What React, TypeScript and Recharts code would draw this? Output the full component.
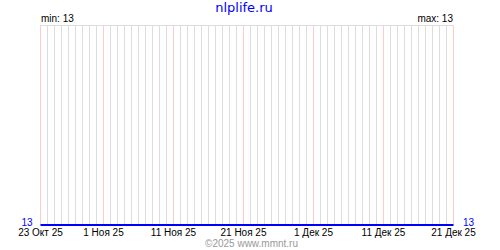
import React from "react";
import { LineChart, Line, XAxis, YAxis, CartesianGrid, ReferenceLine } from "recharts";

// Daily values, 23 Oct 25 (day 0) .. 21 Dec 25 (day 59)
const values = [
  13, 13, 13, 13, 13, 13, 13, 13, 13, 13,
  13, 13, 13, 13, 13, 13, 13, 13, 13, 13,
  13, 13, 13, 13, 13, 13, 13, 13, 13, 13,
  13, 13, 13, 13, 13, 13, 13, 13, 13, 13,
  13, 13, 13, 13, 13, 13, 13, 13, 13, 13,
  13, 13, 13, 13, 13, 13, 13, 13, 13, 13,
];
const majorDays = [0, 9, 19, 29, 39, 49, 59];
const majorLabels = ["23 Окт 25", "1 Ноя 25", "11 Ноя 25", "21 Ноя 25", "1 Дек 25", "11 Дек 25", "21 Дек 25"];
const yTicks = [13];
const title = "nlplife.ru";
const minLabel = "min: 13";
const maxLabel = "max: 13";
const copyright = "©2025 www.mmnt.ru";

const data = values.map((v, i) => ({ day: i, value: v }));
const allDays = values.map((_, i) => i);

const FONT = "'Liberation Sans', Arial, sans-serif";

export default function App() {
  const fmt = (d: number) => {
    const idx = majorDays.indexOf(d);
    return idx >= 0 ? majorLabels[idx] : "";
  };
  return (
    <div style={{ position: "absolute", left: 0, top: 0, width: 500, height: 250, background: "#fff" }}>
      <LineChart
        width={500}
        height={250}
        data={data}
        margin={{ top: 25.5, right: 0.5, bottom: 0, left: 0.5 }}
      >
        <CartesianGrid yAxisId="left" vertical={true} horizontal={false} stroke="#dddddd" strokeWidth={1} />
        <XAxis
          dataKey="day"
          type="number"
          domain={[0, 59]}
          ticks={allDays}
          interval={0}
          tickFormatter={fmt}
          axisLine={false}
          tickLine={false}
          tickSize={0}
          tickMargin={4}
          height={25}
          tick={{ fill: "#000", fontSize: 10, fontFamily: FONT }}
        />
        <YAxis
          yAxisId="left"
          orientation="left"
          domain={[13, 14]}
          ticks={yTicks}
          width={40}
          axisLine={false}
          tickLine={false}
          tickSize={0}
          tickMargin={8}
          tick={{ fill: "#0000ff", fontSize: 10, fontFamily: FONT, dy: -3 }}
        />
        <YAxis
          yAxisId="right"
          orientation="right"
          domain={[13, 14]}
          ticks={yTicks}
          width={46}
          axisLine={false}
          tickLine={false}
          tickSize={0}
          tickMargin={9.5}
          tick={{ fill: "#0000ff", fontSize: 10, fontFamily: FONT, dy: -3 }}
        />
        <ReferenceLine yAxisId="left" y={14} stroke="#dddddd" strokeWidth={1} />
        {majorDays.map((d) => (
          <ReferenceLine key={d} yAxisId="left" x={d} stroke="#ffcccc" strokeWidth={1} />
        ))}
        <Line
          yAxisId="right"
          type="linear"
          dataKey="value"
          stroke="none"
          strokeWidth={0}
          dot={false}
          isAnimationActive={false}
        />
        <Line
          yAxisId="left"
          type="linear"
          dataKey="value"
          stroke="#0000ff"
          strokeWidth={2}
          dot={false}
          isAnimationActive={false}
        />
      </LineChart>
      <svg width={500} height={250} style={{ position: "absolute", left: 0, top: 0, pointerEvents: "none" }}>
        <text x={244} y={12} textAnchor="middle" fill="#0000ff" fontSize={13} fontFamily="'DejaVu Sans', sans-serif">
          {title}
        </text>
        <text x={41} y={22} textAnchor="start" fill="#000" fontSize={10} fontFamily={FONT}>
          {minLabel}
        </text>
        <text x={453} y={22} textAnchor="end" fill="#000" fontSize={10} fontFamily={FONT}>
          {maxLabel}
        </text>
        <text x={251.5} y={247} textAnchor="middle" fill="#999999" fontSize={10} fontFamily={FONT}>
          {copyright}
        </text>
      </svg>
    </div>
  );
}
